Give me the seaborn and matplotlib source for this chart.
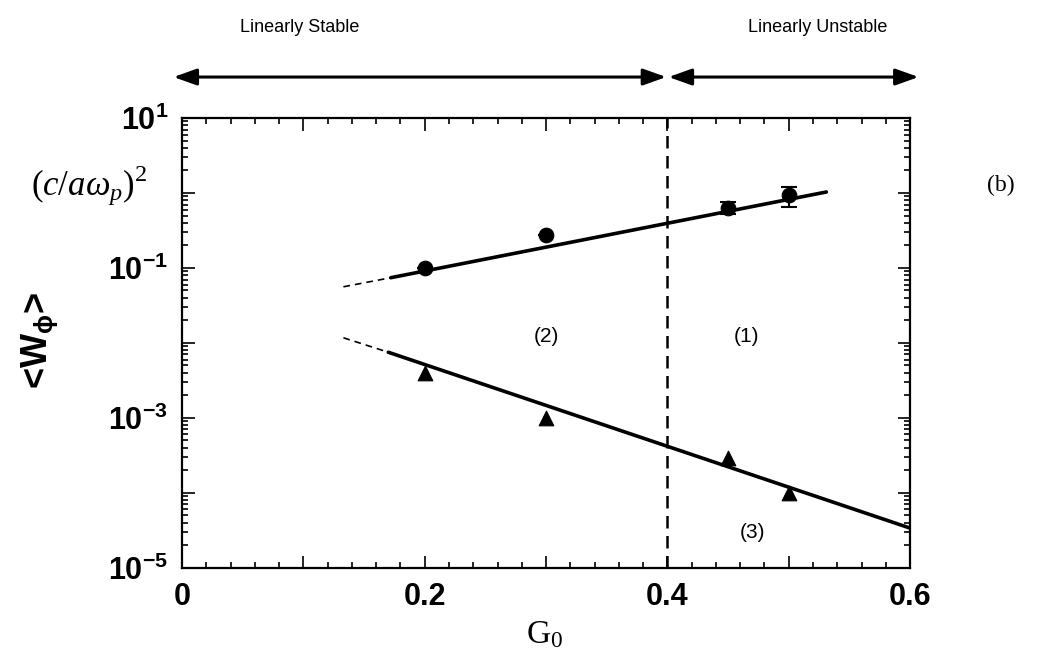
import numpy as np
import pandas as pd
import matplotlib
matplotlib.use("Agg")
import matplotlib.pyplot as plt
import seaborn as sns
from matplotlib.ticker import FixedLocator, NullFormatter, LogLocator

# ---- data ----
g_circles = [0.2, 0.3, 0.45, 0.5]
w_circles = [0.10, 0.275, 0.63, 0.94]
err_lo = [0.0, 0.0, 0.10, 0.30]
err_hi = [0.0, 0.0, 0.12, 0.26]

g_tri = [0.2, 0.3, 0.45, 0.5]
w_tri = [4.0e-3, 1.0e-3, 2.9e-4, 1.0e-4]

up_dash_x = [0.133, 0.172]
up_dash_y = [0.056, 0.074]
up_solid_x = [0.172, 0.531]
up_solid_y = [0.074, 1.03]

lo_dash_x = [0.133, 0.170]
lo_dash_y = [1.17e-2, 7.5e-3]
lo_solid_x = [0.170, 0.607]
lo_solid_y = [7.5e-3, 3.1e-5]

boundary_g = 0.4
xtick_vals = [0, 0.1, 0.2, 0.3, 0.4, 0.5, 0.6]
xtick_labels = ["0", "", "0.2", "", "0.4", "", "0.6"]
ytick_exps = [1, 0, -1, -2, -3, -4, -5]

sns.set_style("ticks")
plt.rcParams["font.family"] = ["Liberation Sans", "DejaVu Sans"]
plt.rcParams["text.color"] = "black"
plt.rcParams["axes.edgecolor"] = "black"
plt.rcParams["xtick.color"] = "black"
plt.rcParams["ytick.color"] = "black"
plt.rcParams["mathtext.fontset"] = "custom"
plt.rcParams["mathtext.rm"] = "Liberation Sans:bold"
plt.rcParams["mathtext.it"] = "Liberation Serif:italic"
plt.rcParams["mathtext.sf"] = "Liberation Serif"
plt.rcParams["mathtext.default"] = "rm"

fig = plt.figure(figsize=(10.42, 6.68), dpi=100)
ax = fig.add_axes([0.1747, 0.150, 0.6987, 0.6734])

df_c = pd.DataFrame({"g": g_circles, "w": w_circles})
df_t = pd.DataFrame({"g": g_tri, "w": w_tri})

# fit lines
sns.lineplot(x=up_solid_x, y=up_solid_y, ax=ax, color="black", lw=2.6, estimator=None)
sns.lineplot(x=up_dash_x, y=up_dash_y, ax=ax, color="black", lw=1.2, estimator=None, linestyle=(0, (4, 3)))
sns.lineplot(x=lo_solid_x, y=lo_solid_y, ax=ax, color="black", lw=2.6, estimator=None)
sns.lineplot(x=lo_dash_x, y=lo_dash_y, ax=ax, color="black", lw=1.2, estimator=None, linestyle=(0, (4, 3)))

ax.errorbar(g_circles, w_circles, yerr=[err_lo, err_hi], fmt="none", ecolor="black",
            elinewidth=1.5, capsize=6, capthick=1.5, zorder=3)
sns.scatterplot(data=df_c, x="g", y="w", ax=ax, marker="o", s=110, color="black",
                edgecolor="black", zorder=4)
sns.scatterplot(data=df_t, x="g", y="w", ax=ax, marker="^", s=110, color="black",
                edgecolor="black", zorder=4)

ax.axvline(boundary_g, color="black", lw=1.8, linestyle=(0, (5, 3)))

ax.set_yscale("log")
ax.set_xlim(0, 0.6)
ax.set_ylim(1e-5, 10)

ax.xaxis.set_major_locator(FixedLocator(xtick_vals))
ax.set_xticklabels(xtick_labels)
ax.xaxis.set_minor_locator(FixedLocator(np.arange(0, 0.601, 0.02)))
ytick_vals = [10.0 ** e for e in ytick_exps]
ax.yaxis.set_major_locator(FixedLocator(ytick_vals))
ax.set_yticklabels([("$10^{%d}$" % e) if e % 2 else "" for e in ytick_exps])
ax.yaxis.set_minor_locator(LogLocator(base=10, subs=np.arange(2, 10), numticks=20))
ax.yaxis.set_minor_formatter(NullFormatter())

ax.tick_params(which="both", direction="in", top=True, right=True, width=1.2, colors="black")
ax.tick_params(which="major", length=9, labelsize=22, pad=10)
ax.tick_params(which="minor", length=4)
for lab in ax.get_xticklabels() + ax.get_yticklabels():
    lab.set_fontweight("bold")
for s in ax.spines.values():
    s.set_linewidth(1.6)
    s.set_color("black")
ax.set_xlabel("")
ax.set_ylabel("")

# region texts
ax.text(0.30, 1.2e-2, "(2)", fontsize=15, ha="center", va="center")
ax.text(0.465, 1.2e-2, "(1)", fontsize=15, ha="center", va="center")
ax.text(0.47, 3.0e-5, "(3)", fontsize=15, ha="center", va="center")

# top arrows & labels
trans = ax.get_xaxis_transform()
arrow_kw = dict(arrowstyle="<|-|>,head_length=1.4,head_width=0.5", color="black", lw=2.2,
                shrinkA=0, shrinkB=0)
ax.annotate("", xy=(-0.007, 1.091), xytext=(0.399, 1.091), xycoords=trans,
            textcoords=trans, arrowprops=arrow_kw, annotation_clip=False)
ax.annotate("", xy=(0.401, 1.091), xytext=(0.607, 1.091), xycoords=trans,
            textcoords=trans, arrowprops=arrow_kw, annotation_clip=False)
ax.text(0.097, 1.202, "Linearly Stable", transform=trans, fontsize=13, ha="center", va="center")
ax.text(0.524, 1.202, "Linearly Unstable", transform=trans, fontsize=13, ha="center", va="center")

# axis labels
fig.text(0.038, 0.49, r"<W$_{\phi}$>", rotation=90, fontsize=26, fontweight="bold",
         ha="center", va="center")
fig.text(0.086, 0.723,
         r"$\mathsf{(}\mathit{c}\mathsf{/}\mathit{a\omega_p}\mathsf{)}^{\mathsf{2}}$",
         fontsize=25, ha="center", va="center")
fig.text(0.523, 0.05, r"$\mathsf{G_0}$", fontsize=24, ha="center", va="center")
fig.text(0.96, 0.723, "(b)", fontsize=17, family="Liberation Serif", ha="center", va="center")

fig.savefig("out.png", dpi=100)
